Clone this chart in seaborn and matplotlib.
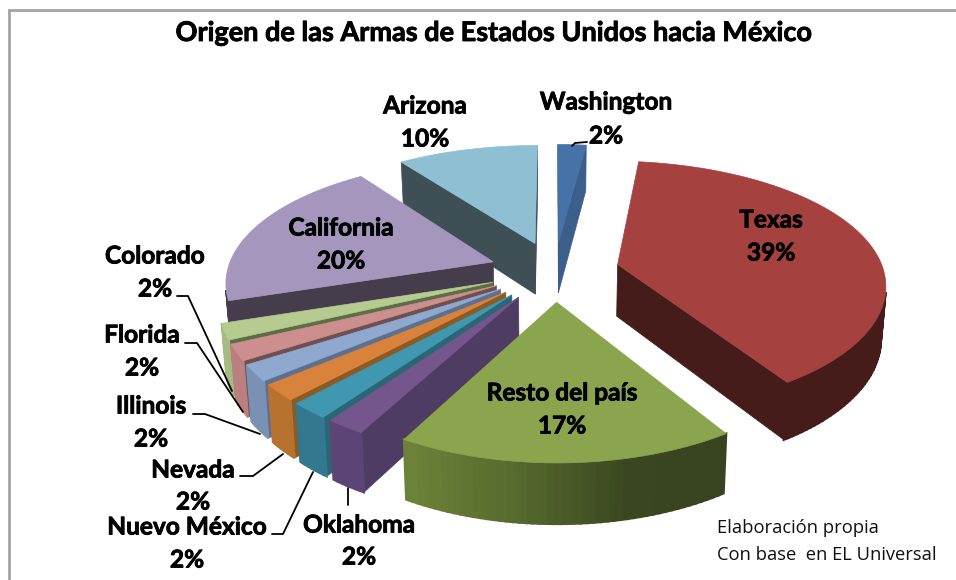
import numpy as np
import pandas as pd
import seaborn as sns
import matplotlib
matplotlib.use("Agg")
import matplotlib.pyplot as plt
import matplotlib.patheffects as pe
from matplotlib.patches import Polygon

# ---- data ----
states = ["Washington", "Texas", "Resto del país", "Oklahoma", "Nuevo México", "Nevada",
          "Illinois", "Florida", "Colorado", "California", "Arizona"]
shares = [2, 39, 17, 2, 2, 2, 2, 2, 2, 20, 10]
title_text = "Origen de las Armas de Estados Unidos hacia México"
source_lines = ["Elaboración propia", "Con base  en EL Universal"]

# ---- styles ----
top_colors = ["#4672a8", "#a5423f", "#8aa54e", "#74558c", "#3f97b0", "#d8823c",
              "#8fa8cf", "#cc8f8e", "#b5cb90", "#a596bd", "#8fbfd2"]
rim_colors = ["#3b5e8a", "#451c1a", "#6c8238", "#5d4477", "#34788f", "#b8722f",
              "#7a90b5", "#ba7f7e", "#a5bb82", "#453c4c", "#3e4f56"]
cut_colors = ["#3b5e8a", "#451c1a", "#3a4620", "#4f3c63", "#2b6676", "#8c5a24",
              "#5d7090", "#6f4f4f", "#5b6e46", "#453c4c", "#3e4f56"]
resto_rim = sns.blend_palette(["#6c8238", "#566a2d", "#3a4620", "#384420"], 40)
draw_order = ["Washington", "Arizona", "Texas", "California", "Colorado", "Florida",
              "Illinois", "Nevada", "Nuevo México", "Oklahoma", "Resto del país"]

CX, CY, AX_R, BY_R = 554.5, 271, 266, 122.5
PERSP, PERSP_X, EXPLODE, DEPTH, SHRINK = 0.165, 0.145, 0.245, 52, 0.985


def project(X, Y, z=0.0):
    s = 1.0 / (1.0 + PERSP * Y)
    px = AX_R * X / (1.0 + PERSP_X * Y)
    py = CY - BY_R * Y * s
    if z:
        px *= SHRINK
        py += DEPTH * s ** 0.7
    return CX + px, py


def facing(poly):
    x, y = np.array(poly).T
    return np.sum(x * np.roll(y, -1) - np.roll(x, -1) * y) < 0


sns.set_theme(style="white")
plt.rcParams["font.family"] = ["Lato", "DejaVu Sans"]
fig = plt.figure(figsize=(9.56, 5.80), dpi=100)
ax = fig.add_axes([0, 0, 1, 1])
ax.set_xlim(0, 956)
ax.set_ylim(580, 0)
ax.axis("off")

df = pd.DataFrame({"state": states, "share": shares,
                   "top": top_colors, "rim": rim_colors, "cut": cut_colors})
df["start"] = df["share"].cumsum().shift(fill_value=0) * 3.6
df["end"] = df["share"].cumsum() * 3.6
df = df.set_index("state")


def quad(p, q, color, z, lw=0.5):
    a, b = project(*p), project(*q)
    c, d = project(*q, 1), project(*p, 1)
    poly = [a, b, c, d]
    if facing(poly):
        ax.add_patch(Polygon(poly, closed=True, fc=color, ec=color, lw=lw, zorder=z))


for k, name in enumerate(draw_order):
    row = df.loc[name]
    z = 2 + k
    theta = np.radians(np.linspace(row["start"], row["end"], max(8, int(row["share"] * 3))))
    mid = np.radians((row["start"] + row["end"]) / 2)
    tip = (EXPLODE * np.sin(mid), EXPLODE * np.cos(mid))
    arc = [(tip[0] + np.sin(t), tip[1] + np.cos(t)) for t in theta]
    quad(tip, arc[0], row["cut"], z)
    quad(arc[-1], tip, row["cut"], z)
    for i in range(len(arc) - 1):
        if name == "Resto del país":
            frac = i / (len(arc) - 2)
            col = resto_rim[int((len(resto_rim) - 1) * (1 - frac))]
        else:
            col = row["rim"]
        quad(arc[i], arc[i + 1], col, z, lw=1.6)
    face = [project(*tip)] + [project(*p) for p in arc]
    ax.add_patch(Polygon(face, closed=True, fc=row["top"], ec=row["top"], lw=0.5, zorder=z))

# frame
ax.plot([9, 9, 956], [580, 10, 10], color="#a3a3a3", lw=2, solid_joinstyle="miter", zorder=1)

# leader lines
leaders = [([572, 575, 587], [146, 143, 142]),
           ([177, 188, 232], [296, 296, 391]),
           ([185, 197, 243], [343, 343, 412]),
           ([193, 205, 260], [414, 414, 434]),
           ([240, 253, 283], [476, 476, 454]),
           ([272, 283, 313], [534, 534, 472]),
           ([348, 348], [505, 488])]
for xs, ys in leaders:
    ax.plot(xs, ys, color="black", lw=1.3, zorder=30)

# labels
heavy = [pe.withStroke(linewidth=0.6, foreground="black")]
label_pos = {"Washington": (606, 102, 136), "Arizona": (425, 106, 139), "Texas": (771, 220, 253),
             "California": (341, 228, 261), "Colorado": (155, 256, 289), "Florida": (142, 335, 368),
             "Illinois": (151, 406, 439), "Nevada": (193, 470, 502), "Nuevo México": (187, 527, 560),
             "Oklahoma": (359, 525, 557), "Resto del país": (562, 393, 426)}
for name, share in zip(states, shares):
    x, y1, y2 = label_pos[name]
    for txt, y in ((name, y1), (f"{share}%", y2)):
        ax.text(x, y, txt, ha="center", va="center", fontsize=17.6, fontweight="bold",
                color="black", zorder=40, path_effects=heavy)

ax.text(494, 33, title_text, ha="center", va="center", fontsize=19.5, fontweight="bold",
        color="black", zorder=40, path_effects=heavy)
for line, y in zip(source_lines, [528, 555]):
    ax.text(717, y, line, ha="left", va="center", fontsize=13.2, color="#111111",
            family=["Open Sans", "DejaVu Sans"], zorder=40)

fig.savefig("out.png", dpi=100, facecolor="white")
